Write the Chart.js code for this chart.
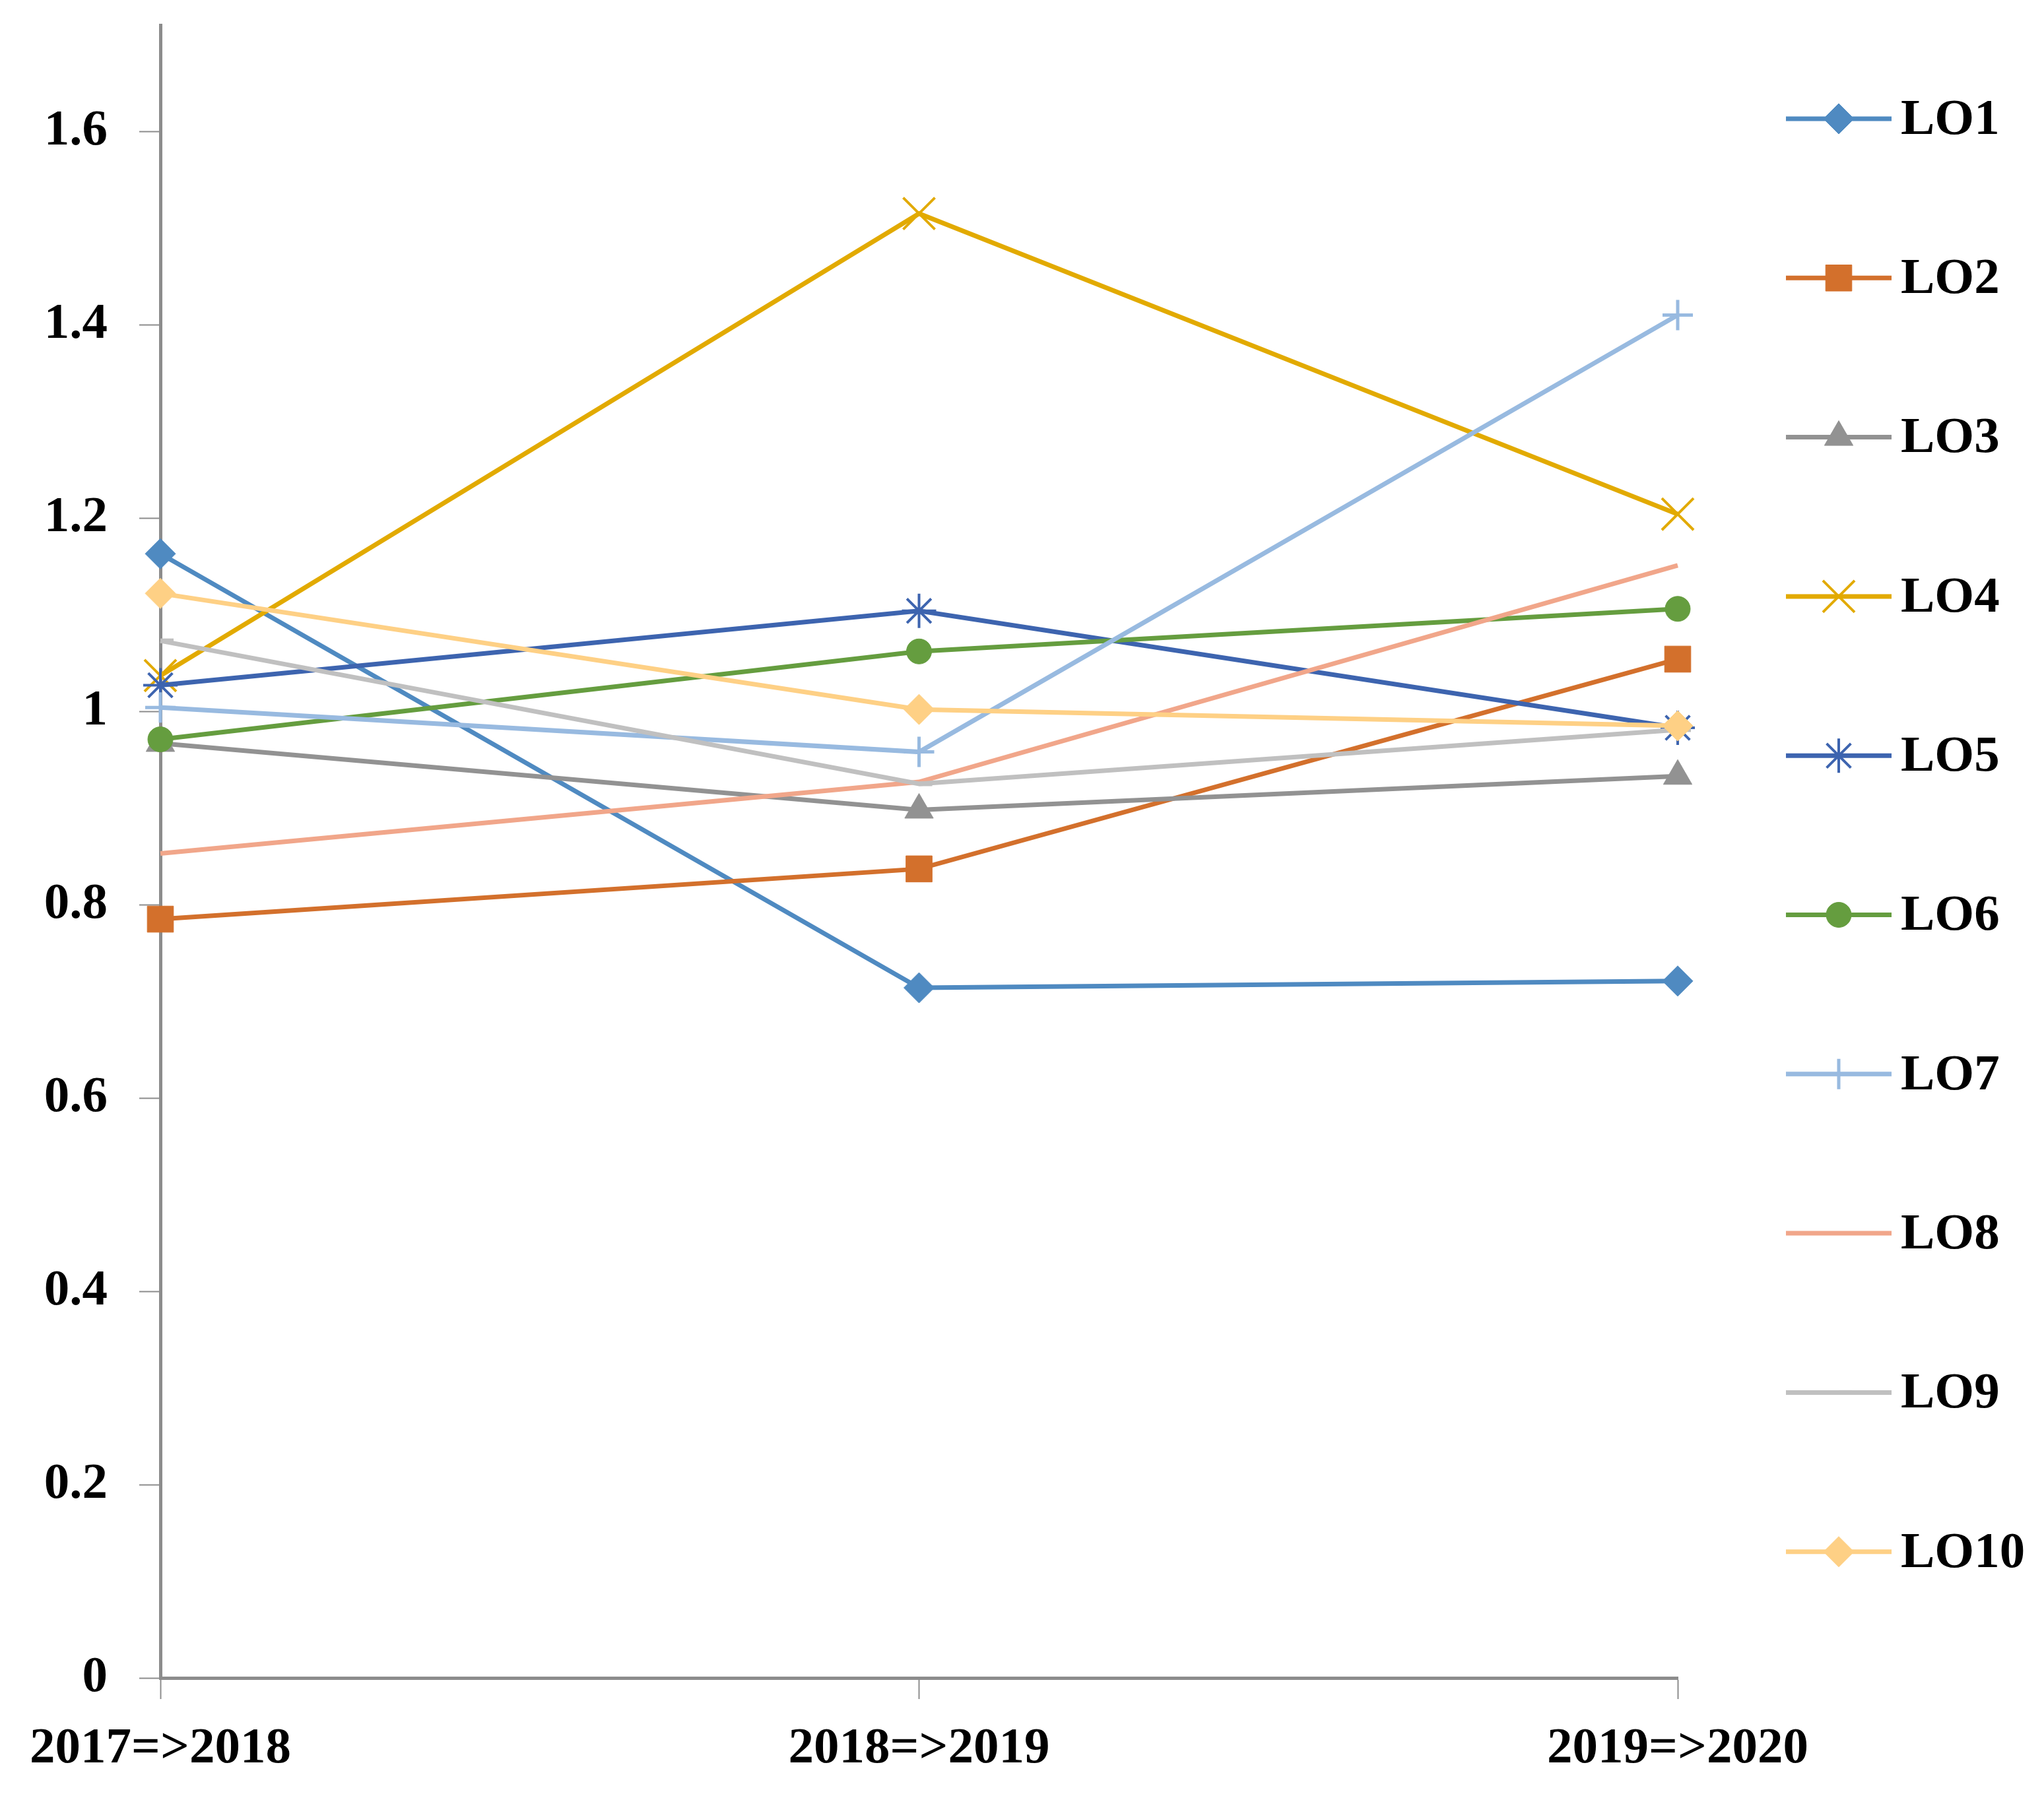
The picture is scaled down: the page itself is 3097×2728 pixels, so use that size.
<!DOCTYPE html>
<html>
<head>
<meta charset="utf-8">
<script src="https://cdn.jsdelivr.net/npm/chart.js@4"></script>
<style>
  html, body { margin: 0; padding: 0; background: #fff; }
  #wrap { width: 3097px; height: 2728px; }
</style>
</head>
<body>
<div id="wrap"><canvas id="loChart" width="3097" height="2728"></canvas></div>
<script>
// categories and series values
const periods = ['2017=>2018', '2018=>2019', '2019=>2020'];
const lo1 = [1.163, 0.714, 0.721];
const lo2 = [0.785, 0.837, 1.054];
const lo3 = [0.967, 0.898, 0.933];
const lo4 = [1.037, 1.515, 1.204];
const lo5 = [1.027, 1.104, 0.983];
const lo6 = [0.971, 1.062, 1.106];
const lo7 = [1.004, 0.958, 1.410];
const lo8 = [0.853, 0.927, 1.151];
const lo9 = [1.073, 0.925, 0.981];
const lo10 = [1.122, 1.002, 0.985];
const seriesNames = ['LO1', 'LO2', 'LO3', 'LO4', 'LO5', 'LO6', 'LO7', 'LO8', 'LO9', 'LO10'];
const yTicks = [0, 0.2, 0.4, 0.6, 0.8, 1, 1.2, 1.4, 1.6];

const axisColor = '#8c8c8c';
const fontFamily = '"Liberation Serif", "Times New Roman", serif';
const lineW = 7;

// look of each series: colour, marker
const styles = [
    { color: '#4f8ac1', point: 'rectRot', r: 23, bw: 1 },
    { color: '#d3702c', point: 'rect', r: 28, bw: 1 },
    { color: '#929292', point: 'triangle', r: 25, bw: 1 },
    { color: '#e2aa00', point: 'crossRot', r: 34, bw: 4 },
    { color: '#3d64af', point: 'star', r: 26, bw: 4 },
    { color: '#659d3f', point: 'circle', r: 19, bw: 1 },
    { color: '#98bae0', point: 'cross', r: 23, bw: 5 },
    { color: '#f1a68a', point: 'circle', r: 0, bw: 0 },
    { color: '#c0c0c0', point: 'dash', r: 20, bw: 7 },
    { color: '#fed085', point: 'rectRot', r: 23, bw: 1 }
];

const allValues = [lo1, lo2, lo3, lo4, lo5, lo6, lo7, lo8, lo9, lo10];

const datasets = allValues.map((vals, i) => ({
    label: seriesNames[i],
    data: vals,
    borderColor: styles[i].color,
    backgroundColor: styles[i].color,
    borderWidth: lineW,
    tension: 0,
    pointStyle: styles[i].point,
    pointRadius: styles[i].r,
    pointHoverRadius: styles[i].r,
    pointBorderWidth: styles[i].bw,
    pointBorderColor: styles[i].color,
    pointBackgroundColor: styles[i].color,
    order: seriesNames.length - i   // later series on top, like the original
}));

// legend at the right: short line with the marker, then the name
const sideLegend = {
    id: 'sideLegend',
    afterDraw(chart) {
        const ctx = chart.ctx;
        const x0 = 2706, x1 = 2866, textX = 2880;
        const firstY = 180, step = 241.3;
        ctx.save();
        chart.data.datasets.forEach((ds, i) => {
            const y = firstY + i * step;
            ctx.strokeStyle = ds.borderColor;
            ctx.lineWidth = lineW;
            ctx.beginPath();
            ctx.moveTo(x0, y);
            ctx.lineTo(x1, y);
            ctx.stroke();
            if (ds.pointRadius > 0) {
                ctx.fillStyle = ds.pointBackgroundColor;
                ctx.strokeStyle = ds.pointBorderColor;
                ctx.lineWidth = ds.pointBorderWidth;
                Chart.helpers.drawPoint(ctx, {
                    pointStyle: ds.pointStyle,
                    radius: ds.pointRadius,
                    rotation: 0,
                    borderWidth: ds.pointBorderWidth
                }, (x0 + x1) / 2, y);
            }
            ctx.fillStyle = '#000';
            ctx.font = 'bold 77px ' + fontFamily;
            ctx.textAlign = 'left';
            ctx.textBaseline = 'middle';
            ctx.fillText(ds.label, textX, y + 3);
        });
        ctx.restore();
    }
};

const ctx = document.getElementById('loChart').getContext('2d');

new Chart(ctx, {
    type: 'line',
    data: {
        labels: periods,
        datasets: datasets
    },
    options: {
        responsive: false,
        animation: false,
        layout: {
            padding: { left: 0, right: 555, top: 36, bottom: 0 }
        },
        plugins: {
            legend: { display: false },
            tooltip: { enabled: false }
        },
        scales: {
            x: {
                offset: false,
                grid: {
                    drawOnChartArea: false,
                    drawTicks: true,
                    tickLength: 32,
                    tickColor: axisColor,
                    tickWidth: 2
                },
                border: { display: true, color: axisColor, width: 5 },
                ticks: {
                    color: '#000',
                    padding: 30,
                    maxRotation: 0,
                    font: { family: fontFamily, size: 77, weight: 'bold' }
                },
                afterFit(scale) {
                    scale.height = 185;
                    scale.paddingLeft = 0;
                    scale.paddingRight = 0;
                }
            },
            y: {
                min: 0,
                max: 1.71,
                grid: {
                    drawOnChartArea: false,
                    drawTicks: true,
                    tickLength: 32,
                    tickColor: axisColor,
                    tickWidth: 2
                },
                border: { display: true, color: axisColor, width: 5 },
                ticks: {
                    stepSize: 0.2,
                    color: '#000',
                    padding: 48,
                    font: { family: fontFamily, size: 77, weight: 'bold' },
                    callback: v => String(Math.round(v * 10) / 10)
                },
                afterBuildTicks(scale) {
                    scale.ticks = yTicks.map(v => ({ value: v }));
                },
                afterFit(scale) {
                    scale.width = 243;
                    scale.paddingTop = 0;
                    scale.paddingBottom = 0;
                }
            }
        }
    },
    plugins: [sideLegend]
});
</script>
</body>
</html>
